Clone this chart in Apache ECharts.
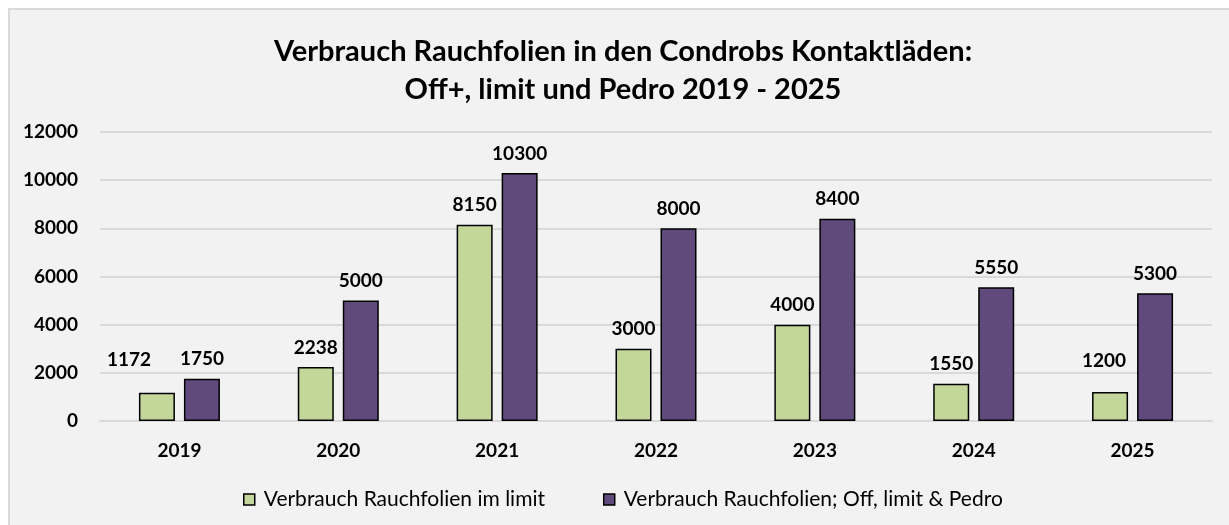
<!DOCTYPE html>
<html>
<head>
<meta charset="utf-8">
<script src="https://cdn.jsdelivr.net/npm/echarts@6/dist/echarts.min.js"></script>
<style>
	html, body { margin: 0; padding: 0; background: #ffffff; }
	#chart { width: 1229px; height: 525px; }
</style>
</head>
<body>
<div id="chart"></div>
<script>
const years = ['2019', '2020', '2021', '2022', '2023', '2024', '2025']
const limitValues = [1172, 2238, 8150, 3000, 4000, 1550, 1200]
const allValues = [1750, 5000, 10300, 8000, 8400, 5550, 5300]
const yTicks = [0, 2000, 4000, 6000, 8000, 10000, 12000]

// two labels in the original sit off their default spot
const limitLabelShift = [[-28, -13], [0, 0], [0, 0], [0, 0], [0, 0], [0, 0], [-6, -12]]

const font = 'Lato, "Open Sans", sans-serif'

const myChart = echarts.init(document.getElementById('chart'), null, { renderer: 'canvas' })

const valueLabel = {
	show: true,
	position: 'top',
	distance: 10,
	fontFamily: font,
	fontWeight: 'bold',
	fontSize: 19,
	color: '#000000',
}

let option = {
	backgroundColor: '#ffffff',
	graphic: [
		{
			type: 'rect',
			left: 8,
			top: 8,
			shape: { width: 1240, height: 530 },
			style: { fill: '#f2f2f2', stroke: '#d9d9d9', lineWidth: 2 },
			z: -10,
		},
	],
	title: {
		text: 'Verbrauch Rauchfolien in den Condrobs Kontaktläden:\nOff+, limit und Pedro 2019 - 2025',
		left: 618,
		textAlign: 'center',
		top: 28,
		textStyle: {
			fontFamily: font,
			fontWeight: 'bold',
			fontSize: 29,
			lineHeight: 38,
			color: '#000000',
		},
	},
	legend: {
		top: 484,
		left: 238,
		itemWidth: 11,
		itemHeight: 11,
		itemGap: 58,
		icon: 'rect',
		itemStyle: { borderColor: '#000000', borderWidth: 1.5 },
		textStyle: { fontFamily: font, fontSize: 21, color: '#000000', padding: [0, 0, 0, 4] },
	},
	grid: {
		left: 100,
		right: 17,
		top: 132,
		bottom: 104,
	},
	xAxis: {
		type: 'category',
		data: years,
		axisLine: { lineStyle: { color: '#d9d9d9', width: 2 } },
		axisTick: { show: false },
		axisLabel: {
			fontFamily: font,
			fontWeight: 'bold',
			fontSize: 19,
			color: '#000000',
			margin: 20,
		},
	},
	yAxis: {
		type: 'value',
		min: yTicks[0],
		max: yTicks[yTicks.length - 1],
		interval: 2000,
		splitLine: { lineStyle: { color: '#d9d9d9', width: 2 } },
		axisLabel: {
			fontFamily: font,
			fontWeight: 'bold',
			fontSize: 19,
			color: '#000000',
			margin: 22,
			align: 'right',
			formatter: (v) => String(v),
		},
	},
	series: [
		{
			name: 'Verbrauch Rauchfolien im limit',
			type: 'bar',
			barWidth: 36,
			barGap: '25%',
			data: limitValues.map((v, i) => ({
				value: v,
				label: { offset: limitLabelShift[i] },
			})),
			itemStyle: { color: '#c4d79b', borderColor: '#000000', borderWidth: 1.5 },
			label: valueLabel,
		},
		{
			name: 'Verbrauch Rauchfolien; Off, limit & Pedro',
			type: 'bar',
			barWidth: 36,
			data: allValues,
			itemStyle: { color: '#604a7b', borderColor: '#000000', borderWidth: 1.5 },
			label: valueLabel,
		},
	],
}
myChart.setOption(option)

window.addEventListener('resize', () => {
	myChart.resize()
})
</script>
</body>
</html>
